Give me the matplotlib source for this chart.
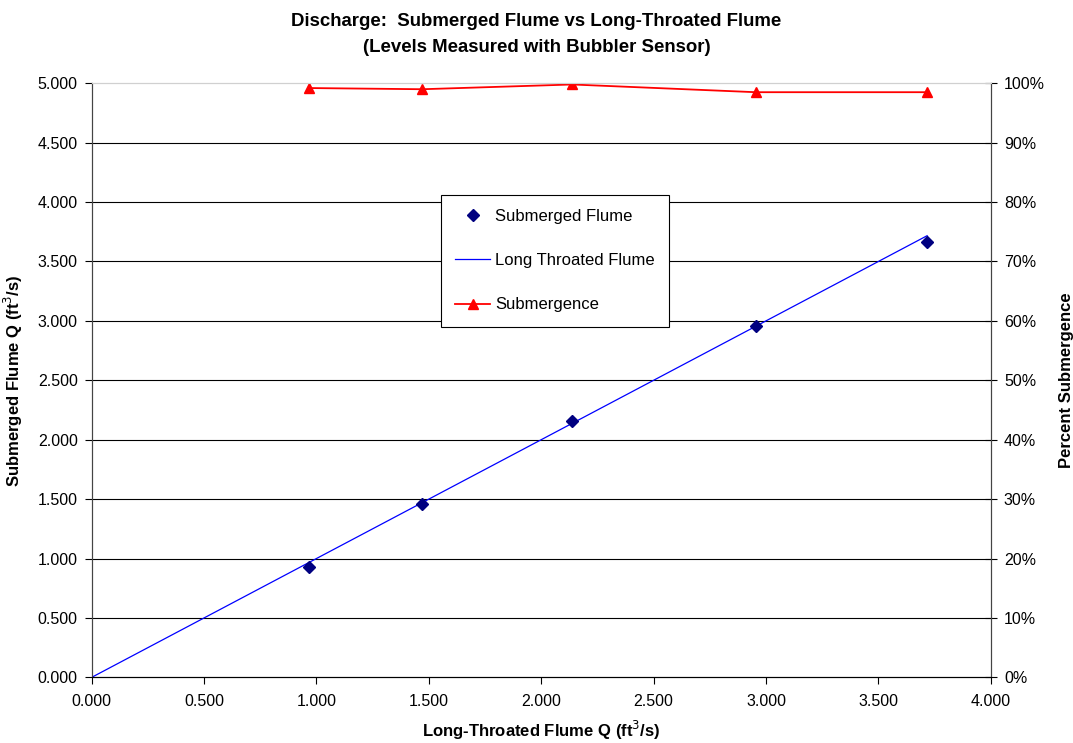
import matplotlib
matplotlib.use('Agg')
from matplotlib import pyplot as plt
from matplotlib.ticker import FuncFormatter, MultipleLocator

plt.rcParams['font.family'] = ['Liberation Sans', 'DejaVu Sans']

# values
long_throated_q = [0.967, 1.471, 2.138, 2.954, 3.717]
submerged_q = [0.931, 1.456, 2.160, 2.960, 3.664]
submergence = [99.2, 99.0, 99.8, 98.5, 98.5]
line_x = [0.0] + long_throated_q
line_y = [0.0] + long_throated_q

fig = plt.figure(figsize=(10.73, 7.43), dpi=100)
ax = fig.add_axes([0.0855, 0.0884, 0.8378, 0.7995])
ax2 = ax.twinx()

h1, = ax.plot(long_throated_q, submerged_q, linestyle='none', marker='D',
              markersize=6, color='#000080', label='Submerged Flume', zorder=4)
h2, = ax.plot(line_x, line_y, color='#0000FF', lw=0.9,
              label='Long Throated Flume', zorder=3)
h3, = ax2.plot(long_throated_q, submergence, color='#FF0000', lw=1.3,
               marker='^', markersize=7, label='Submergence')

ax.set_xlim(0, 4)
ax.set_ylim(0, 5)
ax2.set_ylim(0, 100)
ax.xaxis.set_major_locator(MultipleLocator(0.5))
ax.yaxis.set_major_locator(MultipleLocator(0.5))
ax2.yaxis.set_major_locator(MultipleLocator(10))
fmt3 = FuncFormatter(lambda v, p: '%.3f' % v)
ax.xaxis.set_major_formatter(fmt3)
ax.yaxis.set_major_formatter(fmt3)
ax2.yaxis.set_major_formatter(FuncFormatter(lambda v, p: '%d%%' % round(v)))

# horizontal gridlines, the top one light grey like the reference
for g in [0.5, 1.0, 1.5, 2.0, 2.5, 3.0, 3.5, 4.0, 4.5]:
    ax.axhline(g, color='black', lw=0.8, zorder=1)
for a in (ax, ax2):
    a.spines['top'].set_color('#d0d0d0')
    a.spines['left'].set_color('#444444')
    a.spines['right'].set_color('#444444')
    a.spines['bottom'].set_color('black')

ax.tick_params(axis='x', direction='out', length=5, pad=7, labelsize=11.5)
ax.tick_params(axis='y', direction='out', length=5, pad=5, labelsize=11.5)
ax2.tick_params(axis='y', direction='inout', length=9, pad=5, labelsize=11.5)

ax.set_xlabel('Long-Throated Flume Q (ft$^3$/s)', fontsize=12, fontweight='bold', labelpad=7)
ax.set_ylabel('Submerged Flume Q (ft$^3$/s)', fontsize=12, fontweight='bold', labelpad=9)
ax2.set_ylabel('Percent Submergence', fontsize=12, fontweight='bold', labelpad=10.5)

fig.suptitle('Discharge:  Submerged Flume vs Long-Throated Flume\n(Levels Measured with Bubbler Sensor)',
             fontsize=13.4, fontweight='bold', y=0.982, linespacing=1.65)

leg = ax2.legend(handles=[h1, h2, h3], loc='upper left', bbox_to_anchor=(0.3886, 0.812),
                 fontsize=12, frameon=True, fancybox=False, shadow=False,
                 edgecolor='black', framealpha=1, labelspacing=1.75,
                 handlelength=2.1, handletextpad=0.3, borderpad=0.85, borderaxespad=0)
leg.get_frame().set_linewidth(0.8)

fig.savefig('out.png', dpi=100)
